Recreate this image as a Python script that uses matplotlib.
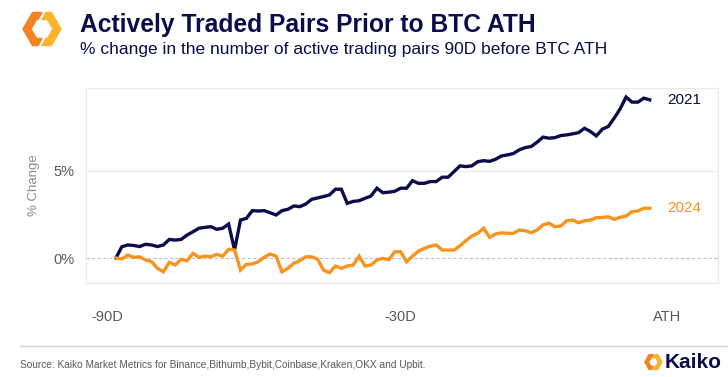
import numpy as np
import matplotlib
matplotlib.use('Agg')
import matplotlib.pyplot as plt
from matplotlib.patches import Polygon

plt.rcParams['font.family'] = ['Liberation Sans', 'DejaVu Sans']

# days before the BTC all-time high
days = list(range(-90, 1))

# % change in active trading pairs, 2021 cycle
pct_2021 = [0.0, 0.65, 0.75, 0.72, 0.66, 0.79, 0.75, 0.66, 0.75, 1.07,
            1.03, 1.07, 1.32, 1.51, 1.71, 1.76, 1.80, 1.65, 1.71, 1.95,
            0.46, 2.18, 2.28, 2.72, 2.70, 2.72, 2.60, 2.47, 2.72, 2.80,
            2.99, 2.95, 3.10, 3.37, 3.45, 3.53, 3.62, 3.95, 3.95, 3.14,
            3.25, 3.29, 3.43, 3.56, 4.01, 3.75, 3.78, 3.83, 4.01, 4.01,
            4.44, 4.29, 4.29, 4.39, 4.39, 4.64, 4.64, 4.96, 5.29, 5.25,
            5.29, 5.53, 5.59, 5.55, 5.67, 5.86, 5.92, 6.00, 6.21, 6.34,
            6.40, 6.65, 6.94, 6.88, 6.91, 7.03, 7.07, 7.13, 7.20, 7.45,
            7.26, 7.01, 7.40, 7.55, 8.03, 8.56, 9.24, 8.95, 8.95, 9.18,
            9.08]

# % change in active trading pairs, 2024 cycle
pct_2024 = [0.0, -0.05, 0.17, 0.04, 0.07, -0.11, -0.20, -0.59, -0.79, -0.25,
            -0.40, -0.07, -0.16, 0.27, 0.04, 0.11, 0.07, 0.21, 0.11, 0.50,
            0.46, -0.69, -0.36, -0.34, -0.21, 0.05, 0.23, 0.11, -0.79, -0.59,
            -0.30, -0.15, 0.07, 0.07, -0.07, -0.69, -0.84, -0.46, -0.59, -0.46,
            -0.40, 0.11, -0.46, -0.40, -0.11, -0.02, -0.10, 0.36, 0.36, -0.21,
            0.11, 0.40, 0.55, 0.68, 0.75, 0.46, 0.46, 0.46, 0.70, 1.00,
            1.26, 1.42, 1.71, 1.19, 1.38, 1.45, 1.42, 1.42, 1.61, 1.57,
            1.45, 1.61, 1.90, 2.00, 1.80, 1.84, 2.14, 2.18, 2.03, 2.14,
            2.18, 2.32, 2.32, 2.37, 2.22, 2.34, 2.41, 2.66, 2.70, 2.86,
            2.86]

xtick_pos = [-91.5, -42.1, 3.0]
xtick_labels = ['-90D', '-30D', 'ATH']

navy = '#0c0c4a'
orange = '#f7931e'
grey = '#595959'

fig = plt.figure(figsize=(7.28, 3.77), dpi=100)
ax = fig.add_axes([0.118, 0.249, 0.868, 0.518])

ax.plot(days, pct_2021, color=navy, lw=2.4, solid_joinstyle='miter')
ax.plot(days, pct_2024, color=orange, lw=2.4, solid_joinstyle='miter')
ax.axhline(0, color='#c0c0c0', lw=0.8, ls=(0, (3, 2)), zorder=0)
ax.axhline(5, color='#eeeeee', lw=1.0, zorder=0)

ax.text(days[-1] + 3, pct_2021[-1], '2021', color=navy, fontsize=11, va='center')
ax.text(days[-1] + 3, pct_2024[-1], '2024', color=orange, fontsize=11, va='center')

ax.set_xlim(-95.06, 11.47)
ax.set_ylim(-1.44, 9.77)
ax.set_yticks([0, 5])
ax.set_yticklabels(['0%', '5%'])
ax.set_xticks(xtick_pos)
ax.set_xticklabels(xtick_labels)
ax.tick_params(length=0, colors=grey, labelsize=10.5)
ax.tick_params(axis='x', pad=19)
ax.tick_params(axis='y', pad=8)
ax.set_ylabel('% Change', color='#8a8a8a', fontsize=9.5, labelpad=10)
for s in ax.spines.values():
    s.set_color('#ebebeb')
    s.set_linewidth(1.0)

# title block
fig.text(80 / 728, 1 - 32 / 377, 'Actively Traded Pairs Prior to BTC ATH',
         fontsize=17.7, fontweight='bold', color=navy, va='baseline')
fig.text(80 / 728, 1 - 54 / 377,
         '% change in the number of active trading pairs 90D before BTC ATH',
         fontsize=12.5, color=navy, va='baseline')


def px(pts, x0=0, y0=0, k=1.0):
    return [((x0 + k * x) / 728, 1 - (y0 + k * y) / 377) for x, y in pts]


# hexagon ring split in two halves (logo)
left_piece = [(42, 12.5), (32.5, 12.5), (23, 29), (32.5, 45.5), (38, 45.5),
              (42, 38.5), (36.5, 38.5), (31, 29), (36.5, 19.5), (38, 19.5)]
right_piece = [(46, 12.5), (51.5, 12.5), (61, 29), (51.5, 45.5), (42, 45.5),
               (46, 38.5), (47.5, 38.5), (53, 29), (47.5, 19.5), (42, 19.5)]

fig.patches.append(Polygon(px(left_piece), closed=True, color='#f58220',
                           transform=fig.transFigure))
fig.patches.append(Polygon(px(right_piece), closed=True, color='#fdb42d',
                           transform=fig.transFigure))

# footer
fig.add_artist(plt.Line2D([20 / 728, 1], [1 - 346 / 377] * 2, color='#d0d0d0',
                          lw=1.0, transform=fig.transFigure))
fig.text(20 / 728, 1 - 365 / 377,
         'Source: Kaiko Market Metrics for Binance,Bithumb,Bybit,Coinbase,Kraken,OKX and Upbit.',
         fontsize=7.3, color=grey, va='center')
fig.patches.append(Polygon(px(left_piece, 634.5, 349, 0.45), closed=True, color='#f58220',
                           transform=fig.transFigure))
fig.patches.append(Polygon(px(right_piece, 634.5, 349, 0.45), closed=True, color='#fdb42d',
                           transform=fig.transFigure))
fig.text(665 / 728, 1 - 363 / 377, 'Kaiko', fontsize=15, fontweight='bold',
         color=navy, va='center')

fig.savefig('out.png', dpi=100)
